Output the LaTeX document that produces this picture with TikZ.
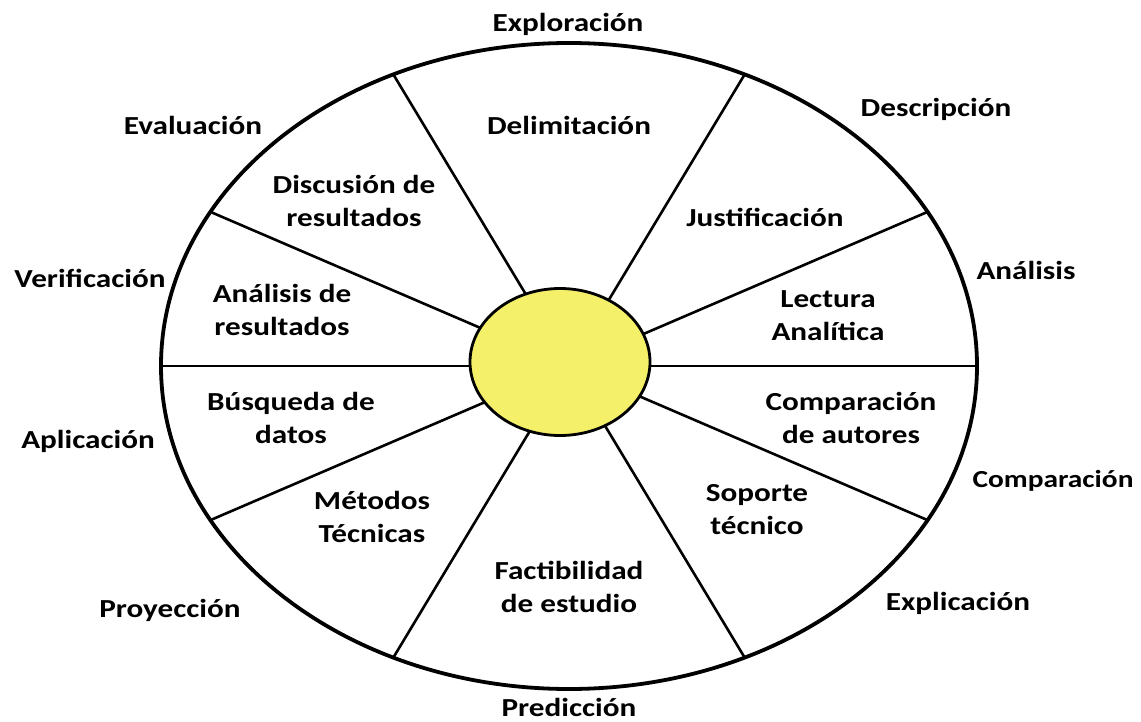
\documentclass[tikz,border=0pt]{standalone}
\usepackage{fontspec}
\setmainfont{Carlito}[FakeStretch=1.2]
\usetikzlibrary{shapes.geometric}
\definecolor{hubyellow}{RGB}{245,240,106}

\begin{document}
\begin{tikzpicture} [x=1pt, y=-1pt,
		ring/.style={line width=3.8pt},
		spoke/.style={line width=2.6pt},
		hub/.style={ellipse, draw, line width=2.8pt, fill=hubyellow,
			minimum width=180pt, minimum height=147pt, inner sep=0pt},
		stage/.style={font=\fontsize{26}{33}\selectfont\bfseries,
			align=center, inner sep=0pt},
	]
		\useasboundingbox (0,0) rectangle (1141,722);

		% Centre of the wheel
		\coordinate (c) at (569,366);
		% Spokes
		\foreach \a [count=\i] in {0,28.5,64.5,115.5,151.5,180,-151.5,-115.5,-64.5,-28.5} {
			\path (c) ++(\a:408 and 323) coordinate (tip\i);
			\draw [spoke] (c) -- (tip\i);
		}
		% Outer ring
		\draw [ring] (c) ellipse [x radius=408, y radius=323];
		% Hub
		\node (hub) [hub] at (560,362) {};

		% Stages inside the wheel
		\node (delim)   [stage] at (569,125) {Delimitación};
		\node (justi)   [stage] at (765,217) {Justificación};
		\node (lectu)   [stage] at (828,316) {Lectura\\Analítica};
		\node (compaut) [stage] at (851,418) {Comparación\\de autores};
		\node (sopor)   [stage] at (757,510) {Soporte\\técnico};
		\node (facti)   [stage] at (569,587) {Factibilidad\\de estudio};
		\node (metod)   [stage] at (372,517) {Métodos\\Técnicas};
		\node (busqu)   [stage] at (291,418) {Búsqueda de\\datos};
		\node (analres) [stage] at (282,310) {Análisis de\\resultados};
		\node (discu)   [stage] at (354,201) {Discusión de\\resultados};

		% Levels round the wheel
		\node (explo) [stage] at (568,24)  {Exploración};
		\node (descr) [stage] at (936,109) {Descripción};
		\node (anali) [stage] at (1026,270) {Análisis};
		\node (compa) [stage, font=\fontsize{24.5}{29}\selectfont\bfseries]
			at (1053,481) {Comparación};
		\node (expli) [stage] at (958,603) {Explicación};
		\node (predi) [stage] at (569,707) {Predicción};
		\node (proye) [stage] at (170,610) {Proyección};
		\node (aplic) [stage] at (88,441)  {Aplicación};
		\node (verif) [stage] at (90,278)  {Verificación};
		\node (evalu) [stage] at (193,125) {Evaluación};
	\end{tikzpicture}
\end{document}
